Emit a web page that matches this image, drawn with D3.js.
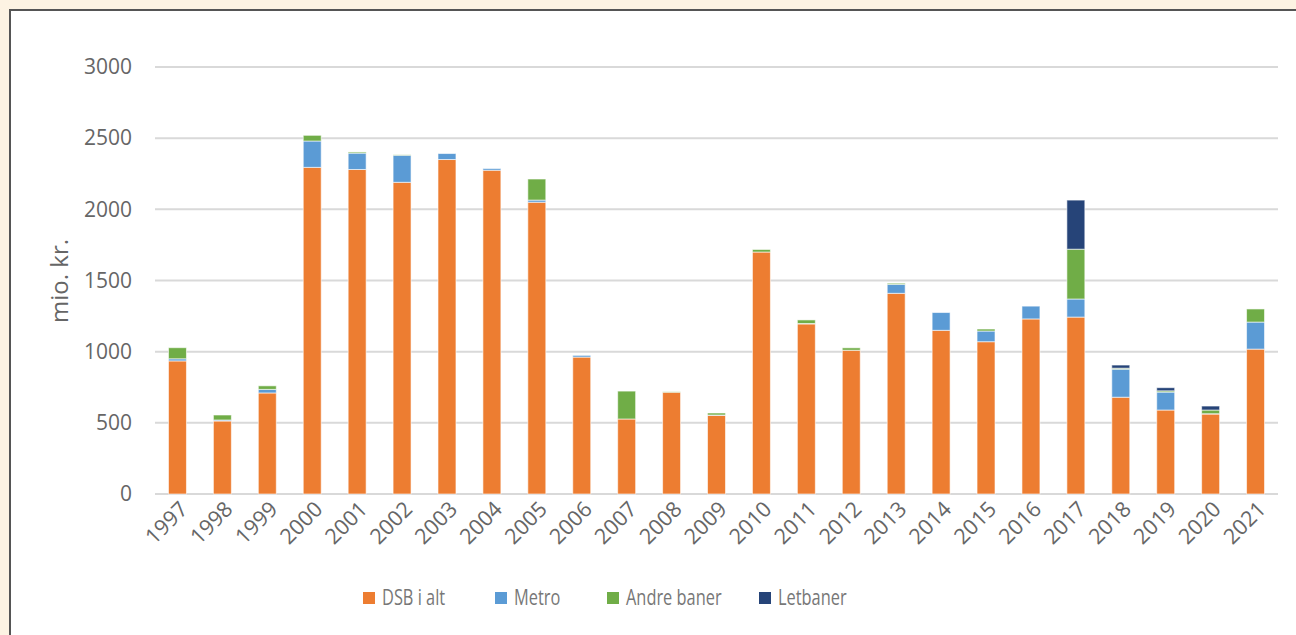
<!DOCTYPE html>
<html>
<head>
<meta charset="utf-8">
<title>stacked bars</title>
<style>
  body { margin: 0; background: #fdf3e3; }
  svg { display: block; }
</style>
</head>
<body>
<svg width="1296" height="635"></svg>
<script src="https://d3js.org/d3.v7.min.js"></script>
<script>

var years = ["1997","1998","1999","2000","2001","2002","2003","2004","2005","2006","2007","2008",
             "2009","2010","2011","2012","2013","2014","2015","2016","2017","2018","2019","2020","2021"];
var dsb      = [935, 513, 710, 2295, 2280, 2190, 2350, 2275, 2050, 962, 527, 715,
                553, 1700, 1195, 1010, 1410, 1150, 1070, 1230, 1243, 680, 590, 562, 1018];
var metro    = [15, 7, 25, 185, 115, 190, 42, 12, 15, 12, 0, 0,
                2, 0, 3, 0, 63, 125, 75, 90, 127, 197, 126, 2, 190];
var andre    = [78, 35, 25, 40, 8, 3, 0, 0, 148, 0, 196, 3,
                14, 18, 25, 17, 8, 0, 14, 0, 350, 7, 9, 26, 92];
var letbaner = [0, 0, 0, 0, 0, 0, 0, 0, 0, 0, 0, 0,
                0, 0, 0, 0, 0, 0, 0, 0, 345, 22, 22, 28, 0];
var yTicks = [0, 500, 1000, 1500, 2000, 2500, 3000];

var seriesNames = ["DSB i alt", "Metro", "Andre baner", "Letbaner"];
var colors = ["#ed7d31", "#5b9bd5", "#70ad47", "#264478"];

var svg = d3.select("svg");

// panel
svg.append("rect")
    .attr("x", 10).attr("y", 10)
    .attr("width", 1300).attr("height", 640)
    .attr("fill", "#fff")
    .attr("stroke", "#555")
    .attr("stroke-width", 2);

var table = years.map(function(y, i) {
  return {year: y, "DSB i alt": dsb[i], "Metro": metro[i], "Andre baner": andre[i], "Letbaner": letbaner[i]};
});

var x = d3.scaleBand().domain(years).range([155, 1278]).paddingInner(0.6).paddingOuter(0.3);
var y = d3.scaleLinear().domain([0, 3000]).range([494, 67]);

var g = svg.append("g");

// grid
g.selectAll(".grid")
  .data(yTicks)
  .enter().append("line")
    .attr("x1", 155).attr("x2", 1278)
    .attr("y1", function(d) { return y(d); })
    .attr("y2", function(d) { return y(d); })
    .attr("stroke", "#d9d9d9")
    .attr("stroke-width", 2);

// y axis
var yAxis = g.append("g")
    .attr("transform", "translate(145,0)")
    .call(d3.axisLeft(y).tickValues(yTicks).tickFormat(d3.format("d")).tickSize(0).tickPadding(13));
yAxis.select(".domain").remove();
yAxis.selectAll("text")
    .attr("fill", "#666")
    .style("font-family", "'Open Sans', sans-serif")
    .style("font-size", "21px");

svg.append("text")
    .attr("transform", "translate(68,281) rotate(-90)")
    .attr("text-anchor", "middle")
    .attr("fill", "#666")
    .style("font-family", "'Open Sans', sans-serif")
    .style("font-size", "24px")
    .text("mio. kr.");

// stacks
var stack = d3.stack().keys(seriesNames);
var layers = stack(table);

g.selectAll(".layer")
  .data(layers)
  .enter().append("g")
    .attr("fill", function(d, i) { return colors[i]; })
  .selectAll("rect")
  .data(function(d) { return d; })
  .enter().append("rect")
    .attr("x", function(d) { return x(d.data.year); })
    .attr("width", x.bandwidth())
    .attr("y", function(d) { return y(d[1]); })
    .attr("height", function(d) { return Math.max(0, y(d[0]) - y(d[1])); })
    .attr("stroke", "#fff")
    .attr("stroke-opacity", 0.6)
    .attr("stroke-width", function(d) { return d[1] > d[0] ? 1 : 0; });

// x labels
g.selectAll(".xl")
  .data(years)
  .enter().append("text")
    .attr("transform", function(d) {
      return "translate(" + (x(d) + x.bandwidth() / 2 + 1) + ",500) rotate(-45)";
    })
    .attr("text-anchor", "end")
    .attr("dy", "0.7em")
    .attr("fill", "#666")
    .style("font-family", "'Open Sans', sans-serif")
    .style("font-size", "21.5px")
    .text(function(d) { return d; });

// legend
var legendX = [363, 495, 607, 759];
var legend = svg.append("g").selectAll("g")
  .data(seriesNames)
  .enter().append("g")
    .attr("transform", function(d, i) { return "translate(" + legendX[i] + ",592)"; });
legend.append("rect")
    .attr("width", 12).attr("height", 12)
    .attr("fill", function(d, i) { return colors[i]; });
legend.append("text")
    .attr("transform", "translate(19,13) scale(0.78,1)")
    .attr("fill", "#777")
    .style("font-family", "'Open Sans', sans-serif")
    .style("font-size", "21px")
    .text(function(d) { return d; });

</script>
</body>
</html>
